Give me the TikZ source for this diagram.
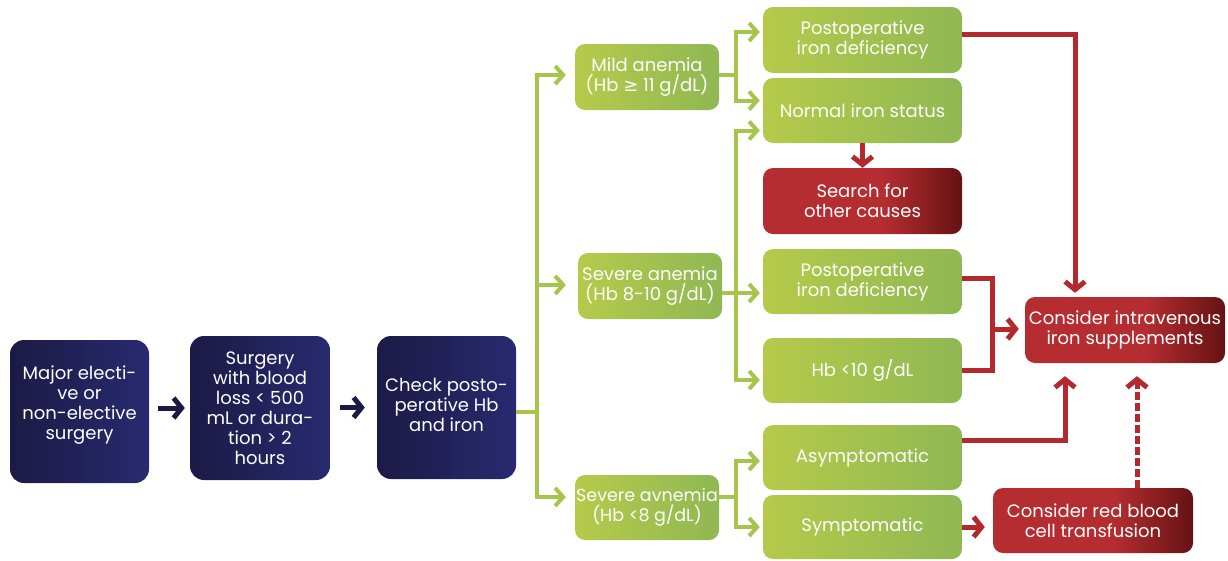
\documentclass[tikz,border=0pt]{standalone}
\usepackage{fontspec}
\setmainfont{Poppins}
\newfontfamily\symf{DejaVu Sans}
\usetikzlibrary{arrows.meta}
\definecolor{navyL}{HTML}{1C1A45}
\definecolor{navyR}{HTML}{282A70}
\definecolor{grnL}{HTML}{B6CA4A}
\definecolor{grnR}{HTML}{8FB853}
\definecolor{grnLine}{HTML}{A5C54B}
\definecolor{redL}{HTML}{B52D31}
\definecolor{redR}{HTML}{661212}
\definecolor{redLine}{HTML}{B3292E}
\pgfdeclarehorizontalshading{redsh}{100bp}{color(0bp)=(redL); color(25bp)=(redL); color(55bp)=(redL); color(75bp)=(redR); color(100bp)=(redR)}
\begin{document}
\begin{tikzpicture}[x=1pt,y=-1pt,
  txt/.style={text=white, align=center, inner sep=0pt, font=\fontsize{18}{20}\selectfont},
  box/.style={txt, rounded corners=10pt},
  navybox/.style={box, rounded corners=14pt, left color=navyL, right color=navyR, minimum width=139pt, minimum height=143pt},
  gbox/.style={box, left color=grnL, right color=grnR, minimum width=199pt, minimum height=65pt},
  rbox/.style={box, shading=redsh},
  gline/.style={draw=grnLine, line width=4pt},
  garr/.style={gline, -{Straight Barb[length=8pt,width=18pt]}},
  rline/.style={draw=redLine, line width=5pt},
  rarr/.style={rline, -{Straight Barb[length=8pt,width=20pt]}},
  rdash/.style={rarr, dash pattern=on 8pt off 3pt},
  narr/.style={draw=navyL, line width=5pt, -{Straight Barb[length=8pt,width=20pt]}}
]
\useasboundingbox (0,0) rectangle (1228,560);
% navy boxes
\node[navybox] (maj) at (79.5,411.5) {};
\node[txt] (majt) at ([yshift=6pt]maj.center) {Major electi-\\ve or\\non-elective\\surgery};
\node[navybox, minimum width=140pt, minimum height=144pt] (surg) at (260,408) {Surgery\\with blood\\loss < 500\\mL or dura-\\tion > 2\\hours};
\node[navybox] (check) at (446.5,407.5) {};
\node[txt] (checkt) at ([yshift=3pt]check.center) {Check posto-\\perative Hb\\and iron};
% green level 1
\node[gbox, minimum width=144pt, minimum height=66pt] (mild) at (647,77) {Mild anemia\\(Hb {\symf ≥} 11 g/dL)};
\node[gbox, minimum width=144pt, minimum height=66pt] (sev) at (650,286) {Severe anemia\\(Hb 8-10 g/dL)};
\node[gbox, minimum width=144pt, minimum height=65pt, font=\fontsize{17.5}{20}\selectfont] (sav) at (647,507.5) {Severe avnemia\\(Hb <8 g/dL)};
% green level 2
\node[gbox, minimum height=66pt] (pid1) at (862.5,40) {Postoperative\\iron deficiency};
\node[gbox] (norm) at (862.5,110.5) {Normal iron status};
\node[rbox, minimum width=199pt, minimum height=66pt] (search) at (862.5,201) {Search for\\other causes};
\node[gbox] (pid2) at (862.5,281.5) {Postoperative\\iron deficiency};
\node[gbox] (hb10) at (862.5,370.5) {Hb <10 g/dL};
\node[gbox] (asym) at (862.5,457.5) {Asymptomatic};
\node[gbox, minimum height=64pt] (sympt) at (862.5,527) {Symptomatic};
% red targets
\node[rbox, minimum width=200pt, minimum height=66pt] (iv) at (1125,330) {Consider intravenous\\iron supplements};
\node[rbox, minimum width=200pt, minimum height=65pt] (rbc) at (1093,520.5) {Consider red blood\\cell transfusion};
% navy arrows
\draw[narr, shorten <=9pt, shorten >=5pt] (maj.east |- surg.west) -- (surg.west);
\draw[narr, shorten <=10pt, shorten >=12pt] (surg.east |- check.west) -- (check.west);
% green trunk
\coordinate (tr) at (537,412);
\draw[gline] (check.east |- tr) -- (tr);
\draw[garr, shorten >=9pt] (tr) |- ([yshift=2pt]mild.west);
\draw[garr, shorten >=12pt] (tr) |- ([yshift=1pt]sev.west);
\draw[garr, shorten >=9pt] (tr) |- ([yshift=10.5pt]sav.west);
% mild branch
\coordinate (mb) at (736,75);
\draw[gline] (mild.east |- mb) -- (mb);
\draw[garr, shorten >=3pt] (mb) |- ([yshift=8pt]pid1.west);
\draw[garr, shorten >=3pt] (mb) |- ([yshift=10pt]norm.west);
% severe branch
\coordinate (sb) at (736,293);
\draw[gline] (sev.east |- sb) -- (sb);
\draw[garr, shorten >=3pt] (sb) |- ([yshift=-20pt]norm.west);
\draw[garr, shorten >=3pt] (sb) |- ([yshift=-11.5pt]pid2.west);
\draw[garr, shorten >=3pt] (sb) |- ([yshift=-9.5pt]hb10.west);
% severe avnemia branch
\coordinate (ab) at (736,497);
\draw[gline] (sav.east |- ab) -- (ab);
\draw[garr, shorten >=3pt] (ab) |- ([yshift=-3.5pt]asym.west);
\draw[garr, shorten >=3pt] (ab) |- (sympt.west);
% red connectors
\draw[rarr] (norm.south) -- (search.north);
\draw[rarr, shorten >=4pt] ([yshift=6pt]pid1.east) -| ([xshift=-50pt]iv.north);
\coordinate (rj) at (992,329);
\draw[rline] ([yshift=3.5pt]pid2.east) -| (rj) |- (hb10.east);
\draw[rarr, shorten >=6pt] (rj) -- (iv.west |- rj);
\draw[rarr, shorten >=13pt] ([yshift=17.5pt]asym.east) -| ([xshift=-60pt]iv.south);
\draw[rdash, shorten >=13pt] ([xshift=44pt]rbc.north) -- ([xshift=12pt]iv.south);
\draw[rarr, shorten >=8pt] (sympt.east) -- (sympt.east -| rbc.west);
\end{tikzpicture}
\end{document}
